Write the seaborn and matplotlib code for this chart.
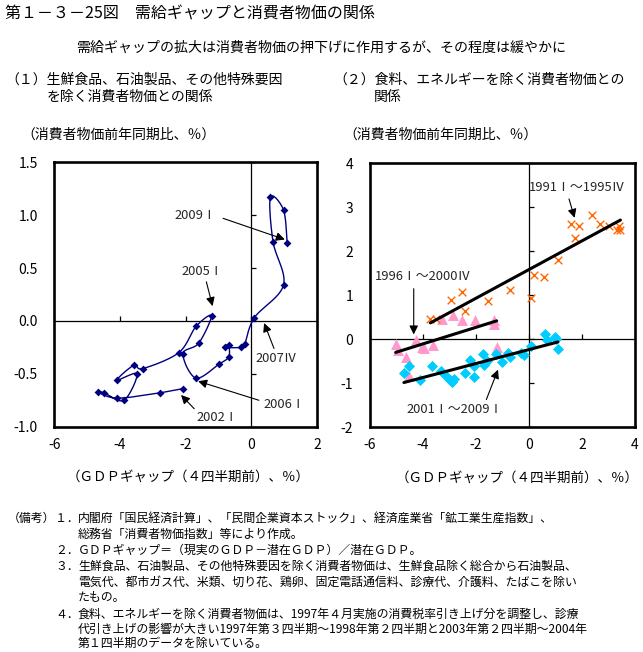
import numpy as np
import pandas as pd
import matplotlib
matplotlib.use("Agg")
import matplotlib.pyplot as plt
import seaborn as sns

# ---------------- data ----------------
# Panel (1): core CPI vs GDP gap (4 quarters earlier), 2002 I -> 2009 I
core_gap = [-2.08, -2.79, -4.09, -4.67, -4.48, -3.88, -3.48, -4.09, -3.58, -3.30,
            -2.21, -1.68, -1.21, -1.60, -2.08, -1.69, -0.99, -0.69, -0.69, -0.80,
            -0.30, -0.20, 0.09, 0.98, 0.66, 0.58, 0.98, 1.09]
core_cpi = [-0.64, -0.68, -0.73, -0.67, -0.68, -0.75, -0.50, -0.56, -0.42, -0.45,
            -0.30, -0.05, 0.05, -0.21, -0.31, -0.54, -0.41, -0.34, -0.23, -0.25,
            -0.25, -0.22, 0.03, 0.34, 0.75, 1.17, 1.05, 0.74]
left_xticks = [-6, -4, -2, 0, 2]
left_yticks = [-1.0, -0.5, 0.0, 0.5, 1.0, 1.5]
left_notes = ["2009Ⅰ", "2005Ⅰ", "2007Ⅳ", "2006Ⅰ", "2002Ⅰ"]

# Panel (2): CPI excl. food & energy vs GDP gap
g91_gap = [-3.72, -3.52, -2.95, -2.54, -2.43, -1.53, -0.72, 0.09, 0.18, 0.58,
           1.09, 1.60, 1.88, 1.75, 2.37, 2.68, 3.00, 3.31, 3.39, 3.45]
g91_cpi = [0.47, 0.47, 0.90, 1.08, 0.64, 0.88, 1.12, 0.95, 1.46, 1.42,
           1.81, 2.63, 2.58, 2.30, 2.83, 2.63, 2.58, 2.49, 2.58, 2.48]
g96_gap = [-5.03, -4.94, -4.63, -4.51, -4.25, -4.05, -3.95, -3.62, -3.28, -2.85,
           -2.52, -2.04, -1.33, -1.31, -1.22]
g96_cpi = [-0.10, -0.24, -0.41, -0.84, -0.01, -0.18, -0.20, -0.12, 0.47, 0.55,
           0.44, 0.43, 0.45, 0.34, -0.17]
g01_gap = [-4.72, -4.53, -4.12, -3.65, -3.33, -3.12, -3.00, -2.90, -2.82, -2.43,
           -2.24, -2.09, -2.09, -1.74, -1.71, -1.58, -1.23, -1.02, -0.79, -0.70,
           -0.29, -0.20, 0.09, 0.59, 0.68, 0.99, 1.02, 1.09]
g01_cpi = [-0.76, -0.60, -0.92, -0.61, -0.73, -0.84, -0.93, -0.97, -0.90, -0.77,
           -0.47, -0.60, -0.86, -0.33, -0.58, -0.50, -0.33, -0.51, -0.31, -0.41,
           -0.31, -0.35, -0.16, 0.13, -0.02, 0.05, 0.00, -0.22]
right_xticks = [-6, -4, -2, 0, 2, 4]
right_yticks = [-2, -1, 0, 1, 2, 3, 4]
right_notes = ["1991Ⅰ～1995Ⅳ", "1996Ⅰ～2000Ⅳ", "2001Ⅰ～2009Ⅰ"]

# ---------------- style ----------------
sns.set_theme(style="white")
plt.rcParams["font.family"] = ["Noto Sans CJK JP", "DejaVu Sans"]
plt.rcParams["axes.unicode_minus"] = False

W, H = 643, 652
fig = plt.figure(figsize=(W / 100, H / 100), dpi=100)
fig.patch.set_facecolor("white")


def px(x, y):
    return x / W, 1 - y / H


def ftext(x, y, s, size=10.0, ha="left", **kw):
    fx, fy = px(x, y)
    fig.text(fx, fy, s, fontsize=size, ha=ha, va="center", color="black", **kw)


def smooth(x, y, n=14):
    pts = np.column_stack([x, y])
    P = np.vstack([pts[0], pts, pts[-1]])
    out = []
    t = np.linspace(0, 1, n, endpoint=False)[:, None]
    for i in range(1, len(P) - 2):
        p0, p1, p2, p3 = P[i - 1], P[i], P[i + 1], P[i + 2]
        seg = 0.5 * ((2 * p1) + (-p0 + p2) * t + (2 * p0 - 5 * p1 + 4 * p2 - p3) * t ** 2
                     + (-p0 + 3 * p1 - 3 * p2 + p3) * t ** 3)
        out.append(seg)
    out.append(pts[-1:])
    return np.vstack(out)


def frame(ax, xt, yt, xlabels, ylabels):
    ax.set_xlim(xt[0], xt[-1])
    ax.set_ylim(yt[0], yt[-1])
    ax.set_xticks(xt, labels=xlabels)
    ax.set_yticks(yt, labels=ylabels)
    ax.tick_params(axis="both", length=0, labelsize=10, colors="black")
    ax.tick_params(axis="y", pad=12)
    ax.tick_params(axis="x", pad=8)
    for s in ax.spines.values():
        s.set_visible(True)
        s.set_color("black")
        s.set_linewidth(1.9)
    ax.axhline(0, color="black", lw=0.9, zorder=1)
    ax.axvline(0, color="black", lw=0.9, zorder=1)
    # small tick marks on the zero axes
    ax.plot(xt, [0] * len(xt), ls="none", marker=2, ms=3.5, mew=0.9, color="black", zorder=1)
    ax.plot([0] * len(yt), yt, ls="none", marker=1, ms=3.5, mew=0.9, color="black", zorder=1)
    ax.set_xlabel("")
    ax.set_ylabel("")
    ax.grid(False)


arrow = dict(arrowstyle="-|>", color="black", lw=0.8, mutation_scale=13, shrinkA=0, shrinkB=0)

# ---------------- left panel ----------------
axL = fig.add_axes([54.3 / W, 1 - 426.7 / H, 262.7 / W, 264.4 / H])
frame(axL, left_xticks, left_yticks,
      [str(v) for v in left_xticks], [f"{v:.1f}" for v in left_yticks])
curve = smooth(core_gap, core_cpi)
axL.plot(curve[:, 0], curve[:, 1], color="#000080", lw=1.0, zorder=2)
dfL = pd.DataFrame({"gap": core_gap, "cpi": core_cpi})
sns.scatterplot(data=dfL, x="gap", y="cpi", ax=axL, marker="D", s=16, color="#000080",
                linewidth=0, zorder=3, legend=False)
axL.set_xlabel("")
axL.set_ylabel("")

note_pos_L = [(-1.69, 1.0), (-1.50, 0.466), (0.76, -0.357), (0.99, -0.786), (-1.04, -0.91)]
arrows_L = [((-0.86, 0.97), (1.02, 0.77)),
            ((-1.37, 0.37), (-1.18, 0.14)),
            ((0.69, -0.26), (0.39, -0.02)),
            ((0.23, -0.75), (-1.62, -0.57)),
            ((-1.74, -0.83), (-2.14, -0.70))]
for lab, (tx, ty), (a0, a1) in zip(left_notes, note_pos_L, arrows_L):
    axL.text(tx, ty, lab, fontsize=9.3, ha="center", va="center", zorder=5)
    axL.annotate("", xy=a1, xytext=a0, arrowprops=arrow, zorder=5)

# ---------------- right panel ----------------
axR = fig.add_axes([370 / W, 1 - 427.3 / H, 265 / W, 264 / H])
frame(axR, right_xticks, right_yticks,
      [str(v) for v in right_xticks], [str(v) for v in right_yticks])
d91 = pd.DataFrame({"gap": g91_gap, "cpi": g91_cpi})
d96 = pd.DataFrame({"gap": g96_gap, "cpi": g96_cpi})
d01 = pd.DataFrame({"gap": g01_gap, "cpi": g01_cpi})
sns.scatterplot(data=d96, x="gap", y="cpi", ax=axR, marker="^", s=62, color="#FF99CC",
                linewidth=0, zorder=3, legend=False)
sns.scatterplot(data=d01, x="gap", y="cpi", ax=axR, marker="D", s=32, color="#00CCFF",
                linewidth=0, zorder=3, legend=False)
sns.scatterplot(data=d91, x="gap", y="cpi", ax=axR, marker="x", s=30, color="#FF6600",
                linewidth=1.0, zorder=3, legend=False)
for d in (d91, d96, d01):
    sns.regplot(data=d, x="gap", y="cpi", ax=axR, scatter=False, ci=None, truncate=True,
                color="black", line_kws={"lw": 2.2, "zorder": 4})
axR.set_xlabel("")
axR.set_ylabel("")
axR.set_xlim(right_xticks[0], right_xticks[-1])
axR.set_ylim(right_yticks[0], right_yticks[-1])

note_pos_R = [(1.82, 3.46), (-4.0, 1.42), (-2.82, -1.6)]
arrows_R = [((1.51, 3.19), (1.72, 2.76)),
            ((-4.35, 1.15), (-4.35, 0.11)),
            ((-1.61, -1.37), (-1.17, -0.69))]
for lab, (tx, ty), (a0, a1) in zip(right_notes, note_pos_R, arrows_R):
    axR.text(tx, ty, lab, fontsize=9.3, ha="center", va="center", zorder=5)
    axR.annotate("", xy=a1, xytext=a0, arrowprops=arrow, zorder=5)

# ---------------- texts ----------------
ftext(5, 14, "第１－３－25図　需給ギャップと消費者物価の関係", size=11.5)
ftext(321, 48, "需給ギャップの拡大は消費者物価の押下げに作用するが、その程度は緩やかに", ha="center", size=10.1)
ftext(5, 80, "（１）生鮮食品、石油製品、その他特殊要因")
ftext(47, 97, "を除く消費者物価との関係")
ftext(333, 80, "（２）食料、エネルギーを除く消費者物価との")
ftext(374, 97, "関係")
ftext(21, 135, "（消費者物価前年同期比、％）")
ftext(343, 135, "（消費者物価前年同期比、％）")
ftext(188, 477, "（ＧＤＰギャップ（４四半期前）、％）", ha="center", size=9.7)
ftext(517, 478, "（ＧＤＰギャップ（４四半期前）、％）", ha="center", size=9.7)

notes = [
    (8, 518, "（備考）"),
    (55, 518, "１．"), (78, 518, "内閣府「国民経済計算」、「民間企業資本ストック」、経済産業省「鉱工業生産指数」、"),
    (78, 534, "総務省「消費者物価指数」等により作成。"),
    (55, 550, "２．"), (78, 550, "ＧＤＰギャップ＝（現実のＧＤＰ－潜在ＧＤＰ）／潜在ＧＤＰ。"),
    (55, 566, "３．"), (78, 566, "生鮮食品、石油製品、その他特殊要因を除く消費者物価は、生鮮食品除く総合から石油製品、"),
    (78, 582, "電気代、都市ガス代、米類、切り花、鶏卵、固定電話通信料、診療代、介護料、たばこを除い"),
    (78, 598, "たもの。"),
    (55, 614, "４．"), (78, 614, "食料、エネルギーを除く消費者物価は、1997年４月実施の消費税率引き上げ分を調整し、診療"),
    (78, 629, "代引き上げの影響が大きい1997年第３四半期～1998年第２四半期と2003年第２四半期～2004年"),
    (78, 643, "第１四半期のデータを除いている。"),
]
for x, y, s in notes:
    ftext(x, y, s, size=8.6)

fig.savefig("out.png", dpi=100, facecolor="white")
